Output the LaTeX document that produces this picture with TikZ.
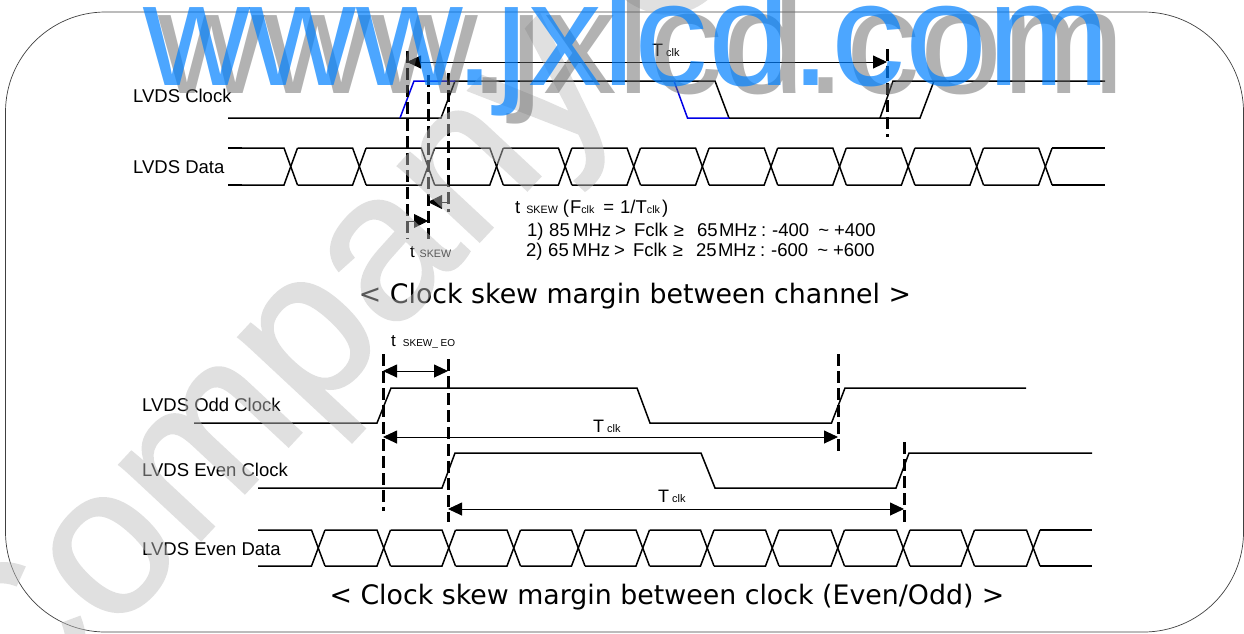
\documentclass[tikz,border=0pt]{standalone}
\usepackage{fontspec}
\usetikzlibrary{arrows.meta}
\setmainfont{Liberation Sans}
\newfontfamily\titlefont{DejaVu Sans}
\newfontfamily\wmfont[FakeBold=1.2]{Liberation Sans}
\definecolor{wblue}{RGB}{0,128,255}
\definecolor{wgray}{RGB}{102,102,102}
\definecolor{wlight}{RGB}{190,190,190}
\definecolor{clkblue}{RGB}{0,0,230}
\newcommand{\sz}[1]{\fontsize{#1}{#1}\selectfont}
\newcommand{\tclk}{{\sz{18}T\,\sz{11}clk}}
\newcommand{\gp}[1]{\hspace{#1pt}}
\newcommand{\subsz}{\sz{10.7}}
\newcommand{\basesz}{\sz{18.5}}
\tikzset{
 x=1pt,y=-1pt,
 wave/.style={line width=1.5pt,line join=miter},
 cutline/.style={line width=3pt,dash pattern=on 12pt off 5pt},
 twohead/.style={line width=.9pt,{Triangle[length=14pt,width=13pt]}-{Triangle[length=14pt,width=13pt]}},
 onehead/.style={line width=.9pt,-{Triangle[length=14pt,width=14pt]}},
 lab/.style={anchor=west,inner sep=0pt,font=\sz{18.5}},
 cond/.style={anchor=west,inner sep=0pt,font=\sz{18.5}},
 captext/.style={inner sep=0pt,font=\titlefont\sz{26.8}},
}
\begin{document}
\begin{tikzpicture}
\useasboundingbox (0,0) rectangle (1244,633);
\clip (0,0) rectangle (1244,633);
\draw[line width=.7pt,black!75,rounded corners=100pt] (5.5,12) rectangle (1243.5,632);
% top clock
\draw[wave] (228,118)--(441,118)--(455,81)--(715,81)--(729,118)--(880,118)--(893,81)--(1105,81);
\draw[wave] (880,118)--(920,118)--(934,81);
\draw[wave,clkblue] (400,118)--(414,81)--(455,81);
\draw[wave,clkblue] (674,81)--(687.5,118)--(729,118);
% top data
\foreach \c [remember=\c as \p (initially 228)] in {284,352.6,421.2,489.8,558.4,627,695.6,764.2,832.8,901.4,970,1038.6}{
 \draw[wave] (\p+13.5,148)--(\c,148)--(\c+13.5,185);
 \draw[wave] (\p+13.5,185)--(\c,185)--(\c+13.5,148);
}
\draw[wave] (228,148)--(241.5,148) (228,185)--(241.5,185);
\draw[wave] (1052,148)--(1105,148) (1052,185)--(1105,185);
\coordinate (a1) at (407,51); \coordinate (a2) at (407,239);
\coordinate (b1) at (428,75); \coordinate (b2) at (428,239);
\coordinate (c1) at (448,73); \coordinate (c2) at (448,212);
\coordinate (d1) at (887,49); \coordinate (d2) at (887,137);
\foreach \u/\v in {a1/a2,b1/b2,c1/c2,d1/d2} \draw[cutline] (\u)--(\v);
\coordinate (ta) at (407,62); \coordinate (tb) at (887,62);
\draw[twohead] (ta)--(tb);
\coordinate (sa) at (407,221); \coordinate (sb) at (428,221);
\draw[onehead] (sa)--(sb);
\coordinate (ra) at (448,202); \coordinate (rb) at (428,202);
\draw[onehead] (ra)--(rb);
\node[lab] (l1) at (133,96) {LVDS Clock};
\node[lab] (l2) at (133,167) {LVDS Data};
\node[anchor=west,inner sep=0pt] (tc1) at (652,50) {\tclk};
\node[anchor=west,inner sep=0pt] (ts1) at (410,252) {\sz{17}t \sz{10.7}SKEW};
\node[cond] (f0) at (515,209) {t\gp{6}\subsz SKEW\gp{5}\basesz (\gp{1}F\subsz clk\gp{9}\basesz =\gp{6}1/T\subsz clk\gp{2}\basesz )};
\node[cond] (f1) at (527,231.5) {1)\gp{5.6}85\gp{3.4}MHz\gp{4}>\gp{8}Fclk\gp{6}≥\gp{13}65\gp{1.4}MHz\gp{4}:\gp{6}-400\gp{9}\textasciitilde\gp{5}+400};
\node[cond] (f2) at (526,251.5) {2)\gp{5.6}65\gp{3.4}MHz\gp{4}>\gp{8}Fclk\gp{6}≥\gp{13}25\gp{1.4}MHz\gp{4}:\gp{6}-600\gp{9}\textasciitilde\gp{5}+600};
\node[captext] (t1) at (635,296) {< Clock skew margin between channel >};
% bottom
\draw[wave] (194,423)--(377,423)--(391,388)--(637,388)--(650,423)--(831.5,423)--(845,388)--(1026,388);
\draw[wave] (258,488)--(442,488)--(455,453)--(701,453)--(715,488)--(896,488)--(909,453)--(1092,453);
\foreach \c [remember=\c as \p (initially 244.5)] in {311.5,377,442,507,571.5,636,700.5,765.5,831,896.5,961,1026.5}{
 \draw[wave] (\p+13.5,530)--(\c,530)--(\c+13.5,566);
 \draw[wave] (\p+13.5,566)--(\c,566)--(\c+13.5,530);
}
\draw[wave] (1040,530)--(1092,530) (1040,566)--(1092,566);
\coordinate (e1) at (383,354); \coordinate (e2) at (383,511);
\coordinate (g1) at (448,359); \coordinate (g2) at (448,522);
\coordinate (h1) at (838,354); \coordinate (h2) at (838,453);
\coordinate (i1) at (904,442); \coordinate (i2) at (904,522);
\foreach \u/\v in {e1/e2,g1/g2,h1/h2,i1/i2} \draw[cutline] (\u)--(\v);
\coordinate (ua) at (383,371); \coordinate (ub) at (448,371);
\draw[twohead] (ua)--(ub);
\coordinate (va) at (383,437); \coordinate (vb) at (838,437);
\draw[twohead] (va)--(vb);
\coordinate (wa) at (448,509); \coordinate (wb) at (904,509);
\draw[twohead] (wa)--(wb);
\node[lab] (l3) at (142,405) {LVDS Odd Clock};
\node[lab] (l4) at (142,470) {LVDS Even Clock};
\node[lab] (l5) at (142,549) {LVDS Even Data};
\node[anchor=west,inner sep=0pt] (tc2) at (593,426) {\tclk};
\node[anchor=west,inner sep=0pt] (tc3) at (658,496) {\tclk};
\node[anchor=west,inner sep=0pt] (te) at (391,342) {\sz{17}t\gp{7}\sz{10}SKEW\_ EO};
\node[captext] (t2) at (667,597) {< Clock skew margin between clock (Even/Odd) >};
% watermarks
\begin{scope}[transparency group,opacity=.47]
\node[anchor=base west,inner sep=0pt,text=wlight,rotate=47,font=\wmfont\sz{210}] (wm) at (8,747) {Company Confidential};
\end{scope}
\node[anchor=base west,inner sep=0pt,text=wgray,text opacity=.5,font=\sz{147.5}] (sh) at (158,93) {www.jxlcd.com};
\node[anchor=base west,inner sep=0pt,text=wblue,text opacity=.7,font=\sz{147.5}] (bl) at (143,85) {www.jxlcd.com};
\end{tikzpicture}
\end{document}
